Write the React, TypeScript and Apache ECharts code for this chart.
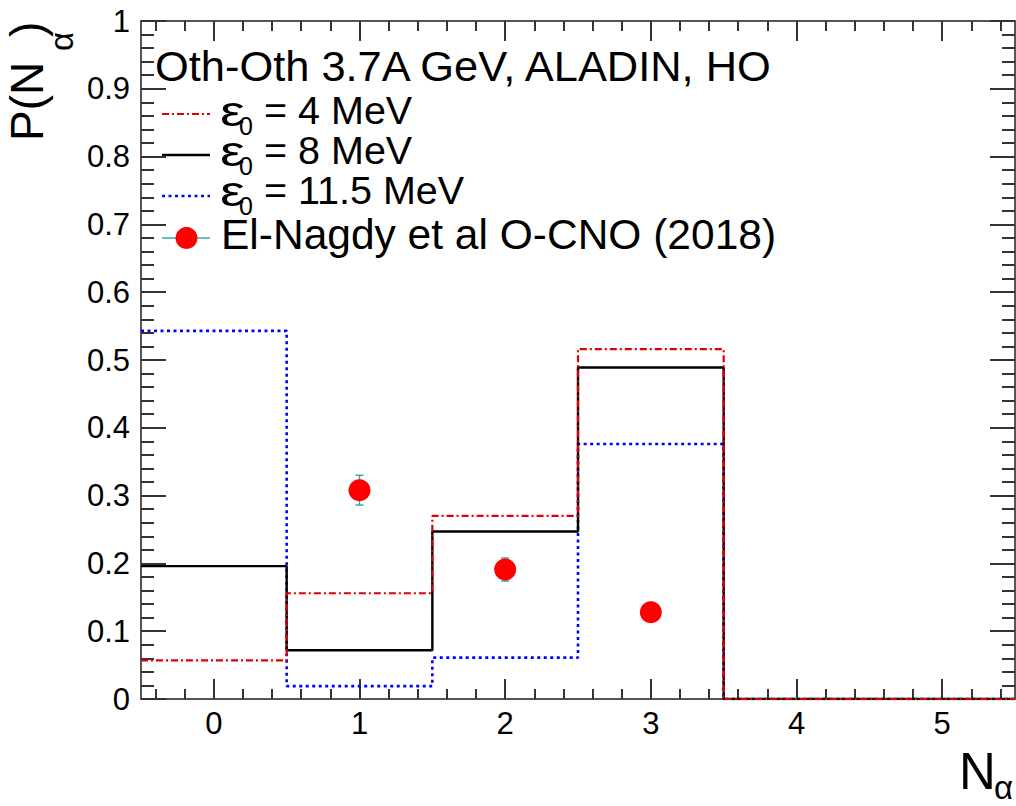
import React, { useEffect, useRef } from "react";
import * as echarts from "echarts";

// ---- data ----
const bins = [0, 1, 2, 3, 4, 5];
const eps4 = [0.057, 0.156, 0.27, 0.516, 0, 0];
const eps8 = [0.196, 0.072, 0.247, 0.489, 0, 0];
const eps115 = [0.543, 0.019, 0.061, 0.376, 0, 0];
const expX = [1, 2, 3];
const expY = [0.308, 0.191, 0.128];
const expErr = [0.022, 0.017, 0.008];
const xTickLabels = [0, 1, 2, 3, 4, 5];

const X_MIN = -0.5;
const X_MAX = 5.5;
const xMinorTicks: number[] = [];
for (let k = -2; k <= 27; k++) {
  const v = Math.round(k * 0.2 * 10) / 10;
  if (v > X_MIN && v < X_MAX && Math.abs(v - Math.round(v)) > 1e-6) xMinorTicks.push(v);
}

const FONT = '"Liberation Sans", Arial, Helvetica, sans-serif';
const AXIS_COLOR = "#555";
const TICK_COLOR = "#333";

function stepData(values: number[]) {
  const out: number[][] = [];
  bins.forEach((b, i) => {
    out.push([b - 0.5, values[i]]);
    out.push([b + 0.5, values[i]]);
  });
  return out;
}

function txt(text: string, x: number, y: number, size: number, extra: any = {}, lh?: number) {
  return {
    type: "text",
    x,
    y,
    ...extra,
    style: {
      text,
      x: 0,
      y: 0,
      fontSize: size,
      fontFamily: FONT,
      fill: "#000",
      align: "left",
      verticalAlign: "middle",
      textAlign: "left",
      textVerticalAlign: "middle",
      lineHeight: lh || size,
    },
  };
}

export default function App() {
  const ref = useRef<HTMLDivElement>(null);
  useEffect(() => {
    if (!ref.current) return;
    const chart = echarts.init(ref.current, null, { renderer: "svg" });

    const xBase = {
      type: "value",
      min: X_MIN,
      max: X_MAX,
      gridIndex: 0,
      splitLine: { show: false },
    };
    const yBase = {
      type: "value",
      min: 0,
      max: 1,
      interval: 0.1,
      gridIndex: 0,
      splitLine: { show: false },
    };

    const legendRows = [
      { label: "= 4 MeV", color: "#e00000", dash: [7, 3, 2, 3], width: 2.2 },
      { label: "= 8 MeV", color: "#000", dash: null, width: 2.4 },
      { label: "= 11.5 MeV", color: "#0000ff", dash: [3, 3.5], width: 2.6 },
    ];
    const rowY = [110, 150, 190];
    const lineY = [114, 155, 196];

    const graphics: any[] = [];
    graphics.push(txt("Oth-Oth 3.7A GeV, ALADIN, HO", 155, 66, 43.4));
    legendRows.forEach((r, i) => {
      graphics.push({
        type: "line",
        shape: { x1: 162, y1: lineY[i], x2: 210, y2: lineY[i] },
        style: { stroke: r.color, lineWidth: r.width, lineDash: r.dash || undefined },
      });
      graphics.push(txt("ε", 220, rowY[i] + 1, 43, { scaleX: 1.3 }, 26));
      graphics.push(txt("0", 239, rowY[i] + 16, 25, {}, 18));
      graphics.push(txt(r.label, 264, rowY[i], 39.5, {}, 30));
    });
    graphics.push({
      type: "line",
      shape: { x1: 162, y1: 238, x2: 210, y2: 238 },
      style: { stroke: "#3aa8a8", lineWidth: 1.5 },
    });
    graphics.push({
      type: "circle",
      shape: { cx: 186.5, cy: 238, r: 11 },
      style: { fill: "#ff0000" },
    });
    graphics.push(txt("El-Nagdy et al O-CNO (2018)", 221, 234, 42.5, {}, 32));

    // y title (rotated)
    graphics.push({
      type: "group",
      x: 26.5,
      y: 141,
      rotation: Math.PI / 2,
      children: [
        txt("P(N", 0, 0, 46),
        txt("α", 90, 35, 33),
        txt(")", 104, 0, 46),
      ],
    });
    // x title
    graphics.push(txt("N", 959, 771.5, 51));
    graphics.push(txt("α", 994, 787.5, 33));

    const option: any = {
      animation: false,
      backgroundColor: "#fff",
      grid: { left: 141, top: 21, right: 1, bottom: 107, containLabel: false },
      xAxis: [
        {
          ...xBase,
          position: "bottom",
          axisLine: { show: true, onZero: false, lineStyle: { color: AXIS_COLOR, width: 2 } },
          axisTick: {
            show: true,
            inside: true,
            length: 20,
            customValues: xTickLabels,
            lineStyle: { color: TICK_COLOR, width: 2 },
          },
          axisLabel: {
            show: true,
            customValues: xTickLabels,
            margin: 9,
            fontSize: 31,
            fontFamily: FONT,
            color: "#000",
          },
        },
        {
          ...xBase,
          position: "bottom",
          axisLine: { show: false, onZero: false },
          axisTick: {
            show: true,
            inside: true,
            length: 10,
            customValues: xMinorTicks,
            lineStyle: { color: TICK_COLOR, width: 2 },
          },
          axisLabel: { show: false },
        },
        {
          ...xBase,
          position: "top",
          axisLine: { show: true, onZero: false, lineStyle: { color: AXIS_COLOR, width: 2 } },
          axisTick: {
            show: true,
            inside: true,
            length: 20,
            customValues: xTickLabels,
            lineStyle: { color: TICK_COLOR, width: 2 },
          },
          axisLabel: { show: false },
        },
        {
          ...xBase,
          position: "top",
          axisLine: { show: false, onZero: false },
          axisTick: {
            show: true,
            inside: true,
            length: 10,
            customValues: xMinorTicks,
            lineStyle: { color: TICK_COLOR, width: 2 },
          },
          axisLabel: { show: false },
        },
      ],
      yAxis: [
        {
          ...yBase,
          position: "left",
          axisLine: { show: true, onZero: false, lineStyle: { color: AXIS_COLOR, width: 2 } },
          axisTick: { show: true, inside: true, length: 25, lineStyle: { color: TICK_COLOR, width: 2 } },
          minorTick: { show: true, splitNumber: 5, length: 13, lineStyle: { color: TICK_COLOR, width: 2 } },
          axisLabel: {
            show: true,
            margin: 11,
            fontSize: 31,
            fontFamily: FONT,
            color: "#000",
            showMinLabel: true,
            showMaxLabel: true,
          },
        },
        {
          ...yBase,
          position: "right",
          axisLine: { show: true, onZero: false, lineStyle: { color: AXIS_COLOR, width: 2 } },
          axisTick: { show: true, inside: true, length: 25, lineStyle: { color: TICK_COLOR, width: 2 } },
          minorTick: { show: true, splitNumber: 5, length: 13, lineStyle: { color: TICK_COLOR, width: 2 } },
          axisLabel: { show: false },
        },
      ],
      series: [
        {
          name: "ε0 = 11.5 MeV",
          type: "line",
          data: stepData(eps115),
          symbol: "none",
          z: 3,
          lineStyle: { color: "#0000ff", width: 2.6, type: [3, 3.5] },
        },
        {
          name: "ε0 = 8 MeV",
          type: "line",
          data: stepData(eps8),
          symbol: "none",
          z: 4,
          lineStyle: { color: "#000", width: 2.4, type: "solid" },
        },
        {
          name: "ε0 = 4 MeV",
          type: "line",
          data: stepData(eps4),
          symbol: "none",
          z: 5,
          lineStyle: { color: "#e00000", width: 2.2, type: [7, 3, 2, 3] },
        },
        {
          name: "errors",
          type: "custom",
          z: 6,
          data: expX.map((x, i) => [x, expY[i] - expErr[i], expY[i] + expErr[i]]),
          renderItem: (params: any, api: any) => {
            const x = api.value(0);
            const p1 = api.coord([x, api.value(1)]);
            const p2 = api.coord([x, api.value(2)]);
            const st = { stroke: "#3aa8a8", lineWidth: 1.5 };
            return {
              type: "group",
              children: [
                { type: "line", shape: { x1: p1[0], y1: p1[1], x2: p2[0], y2: p2[1] }, style: st },
                { type: "line", shape: { x1: p1[0] - 4, y1: p1[1], x2: p1[0] + 4, y2: p1[1] }, style: st },
                { type: "line", shape: { x1: p2[0] - 4, y1: p2[1], x2: p2[0] + 4, y2: p2[1] }, style: st },
              ],
            };
          },
        },
        {
          name: "El-Nagdy et al O-CNO (2018)",
          type: "scatter",
          z: 7,
          data: expX.map((x, i) => [x, expY[i]]),
          symbol: "circle",
          symbolSize: 22,
          itemStyle: { color: "#ff0000", opacity: 1 },
        },
      ],
      graphic: graphics,
    };

    chart.setOption(option);
    return () => chart.dispose();
  }, []);

  return (
    <div
      ref={ref}
      style={{ position: "fixed", left: 0, top: 0, width: 1016, height: 806, background: "#fff" }}
    />
  );
}
